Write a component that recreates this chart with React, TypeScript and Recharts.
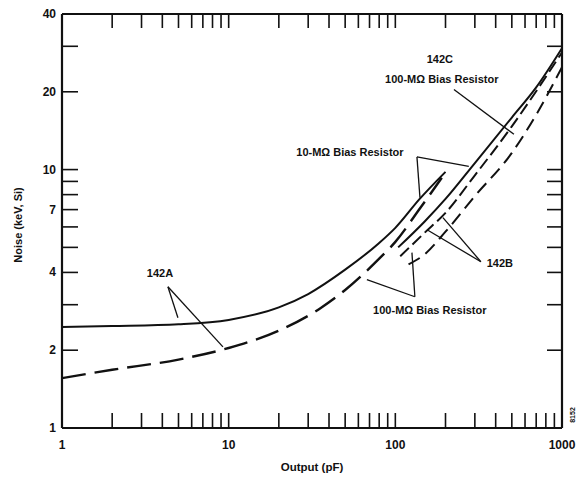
import React from 'react';
import { LineChart, Line, XAxis, YAxis, ReferenceLine, ReferenceDot } from 'recharts';

// Output capacitance (pF) vs noise (keV, Si)
const a142SolidX = [1, 2, 5, 10, 20, 30, 50, 80, 100, 140, 200];
const a142SolidY = [2.46, 2.48, 2.52, 2.62, 2.93, 3.3, 4.1, 5.2, 5.95, 7.7, 9.8];

const a142DashX = [1, 2, 5, 10, 20, 35, 50, 80, 100, 140, 190];
const a142DashY = [1.56, 1.68, 1.84, 2.04, 2.38, 2.89, 3.42, 4.52, 5.25, 7.05, 9.3];

const b142SolidX = [104, 150, 200, 300, 500, 700, 1000];
const b142SolidY = [5.0, 6.3, 7.7, 10.6, 15.9, 20.8, 29.5];

const b142DashX = [107, 150, 200, 300, 500, 700, 1000];
const b142DashY = [4.62, 5.7, 6.8, 9.5, 14.7, 20.1, 28.4];

const c142DashX = [120, 150, 200, 300, 500, 700, 1000];
const c142DashY = [4.3, 4.7, 5.75, 7.9, 11.6, 16.3, 24.9];

const xTicks = [1, 2, 3, 4, 5, 6, 7, 8, 9, 10, 20, 30, 40, 50, 60, 70, 80, 90, 100, 200, 300, 400, 500, 600, 700, 800, 900, 1000];
const xLabels = [1, 10, 100, 1000];
const yTicks = [1, 2, 3, 4, 5, 6, 7, 8, 9, 10, 20, 30, 40];
const yLabels = [1, 2, 4, 7, 10, 20, 40];

// annotation texts and their leader lines (in data units)
const notes = [
  { text: '142A', x: 3.87, y: 3.99 },
  { text: '10-M\u03A9 Bias Resistor', x: 53.4, y: 11.7 },
  { text: '142C', x: 185, y: 26.7 },
  { text: '100-M\u03A9 Bias Resistor', x: 190, y: 22.3 },
  { text: '142B', x: 424, y: 4.36 },
  { text: '100-M\u03A9 Bias Resistor', x: 161, y: 2.87 },
];
const leaders = [
  [[4.32, 3.52], [4.96, 2.67]],
  [[4.32, 3.52], [9.24, 2.06]],
  [[134.8, 11.2], [140.5, 7.79]],
  [[134.8, 11.2], [276, 10.3]],
  [[224.7, 20.4], [514.6, 13.7]],
  [[326, 4.4], [193, 6.52]],
  [[326, 4.4], [155, 5.85]],
  [[131, 3.22], [67.5, 3.75]],
  [[131, 3.22], [125.8, 4.77]],
];

const zip = (xs: number[], ys: number[]) => xs.map((x, i) => ({ x, y: ys[i] }));

const FONT = '"Liberation Sans", Arial, sans-serif';
const textStyle = { fontFamily: FONT, fontWeight: 700, fill: '#111' };

const BottomTick = (props: any) => {
  const { x, y, payload } = props;
  return (
    <g>
      <line x1={x} x2={x} y1={y} y2={y - 15} stroke="#111" strokeWidth={1.6} />
      {xLabels.includes(payload.value) && (
        <text x={x} y={y + 21} textAnchor="middle" fontSize={12} style={textStyle}>
          {payload.value}
        </text>
      )}
    </g>
  );
};

const TopTick = (props: any) => {
  const { x, y } = props;
  return <line x1={x} x2={x} y1={y} y2={y + 14} stroke="#111" strokeWidth={1.6} />;
};

const LeftTick = (props: any) => {
  const { x, y, payload } = props;
  return (
    <g>
      <line x1={x} x2={x + 16} y1={y} y2={y} stroke="#111" strokeWidth={1.6} />
      {yLabels.includes(payload.value) && (
        <text x={x - 6} y={y + 4} textAnchor="end" fontSize={12} style={textStyle}>
          {payload.value}
        </text>
      )}
    </g>
  );
};

const RightTick = (props: any) => {
  const { x, y } = props;
  return <line x1={x} x2={x - 15} y1={y} y2={y} stroke="#111" strokeWidth={1.6} />;
};

export default function App() {
  return (
    <div style={{ position: 'absolute', left: 0, top: 0, width: 577, height: 480, background: '#fff' }}>
      <LineChart width={577} height={480} margin={{ top: 13, right: 14, bottom: 0, left: 0 }}>
        <XAxis
          dataKey="x"
          type="number"
          scale="log"
          domain={[1, 1000]}
          allowDataOverflow
          ticks={xTicks}
          interval={0}
          tickLine={false}
          tickSize={0}
          tickMargin={0}
          height={52}
          axisLine={{ stroke: '#111', strokeWidth: 2.2 }}
          tick={<BottomTick />}
          label={{
            content: (p: any) => (
              <text x={p.viewBox.x + p.viewBox.width / 2} y={p.viewBox.y + 43} textAnchor="middle" fontSize={11.5} style={textStyle}>
                Output (pF)
              </text>
            ),
          }}
        />
        <XAxis
          xAxisId="top"
          dataKey="x"
          type="number"
          scale="log"
          orientation="top"
          domain={[1, 1000]}
          allowDataOverflow
          ticks={xTicks}
          interval={0}
          tickLine={false}
          tickSize={0}
          tickMargin={0}
          height={1}
          axisLine={{ stroke: '#111', strokeWidth: 2.2 }}
          tick={<TopTick />}
        />
        <YAxis
          type="number"
          scale="log"
          domain={[1, 40]}
          allowDataOverflow
          ticks={yTicks}
          interval={0}
          tickLine={false}
          tickSize={0}
          tickMargin={0}
          width={62}
          axisLine={{ stroke: '#111', strokeWidth: 2.2 }}
          tick={<LeftTick />}
          label={{
            content: (p: any) => {
              const cx = p.viewBox.x + 18;
              const cy = p.viewBox.y + p.viewBox.height / 2 + 4;
              return (
                <text x={cx} y={cy} transform={`rotate(-90 ${cx} ${cy})`} textAnchor="middle" dominantBaseline="central" fontSize={11} style={textStyle}>
                  Noise (keV, Si)
                </text>
              );
            },
          }}
        />
        <YAxis
          yAxisId="right"
          orientation="right"
          type="number"
          scale="log"
          domain={[1, 40]}
          allowDataOverflow
          ticks={yTicks}
          interval={0}
          tickLine={false}
          tickSize={0}
          tickMargin={0}
          width={1}
          axisLine={{ stroke: '#111', strokeWidth: 2.2 }}
          tick={<RightTick />}
          label={{
            content: (p: any) => {
              const cx = p.viewBox.x + 10;
              const cy = p.viewBox.y + p.viewBox.height - 13;
              return (
                <text x={cx} y={cy} transform={`rotate(-90 ${cx} ${cy})`} textAnchor="middle" dominantBaseline="central" fontSize={7} style={textStyle}>
                  8152
                </text>
              );
            },
          }}
        />

        <Line data={zip(a142SolidX, a142SolidY)} dataKey="y" type="monotone" stroke="#111" strokeWidth={2} dot={false} isAnimationActive={false} />
        <Line data={zip(a142DashX, a142DashY)} dataKey="y" type="monotone" stroke="#111" strokeWidth={2.4} strokeDasharray="24 9" dot={false} isAnimationActive={false} />
        <Line data={zip(b142SolidX, b142SolidY)} dataKey="y" type="monotone" stroke="#111" strokeWidth={2} dot={false} isAnimationActive={false} />
        <Line data={zip(b142DashX, b142DashY)} dataKey="y" type="monotone" stroke="#111" strokeWidth={2} strokeDasharray="12 5" dot={false} isAnimationActive={false} />
        <Line data={zip(c142DashX, c142DashY)} dataKey="y" type="monotone" stroke="#111" strokeWidth={2} strokeDasharray="13 7" dot={false} isAnimationActive={false} />

        {leaders.map((seg, i) => (
          <ReferenceLine
            key={`l${i}`}
            segment={[{ x: seg[0][0], y: seg[0][1] }, { x: seg[1][0], y: seg[1][1] }]}
            stroke="#111"
            strokeWidth={1.3}
          />
        ))}
        {notes.map((n, i) => (
          <ReferenceDot
            key={`n${i}`}
            x={n.x}
            y={n.y}
            r={0}
            fill="none"
            stroke="none"
            label={{ value: n.text, position: 'center', fontSize: 11, fontWeight: 700, fill: '#111', fontFamily: FONT }}
          />
        ))}
      </LineChart>
    </div>
  );
}
